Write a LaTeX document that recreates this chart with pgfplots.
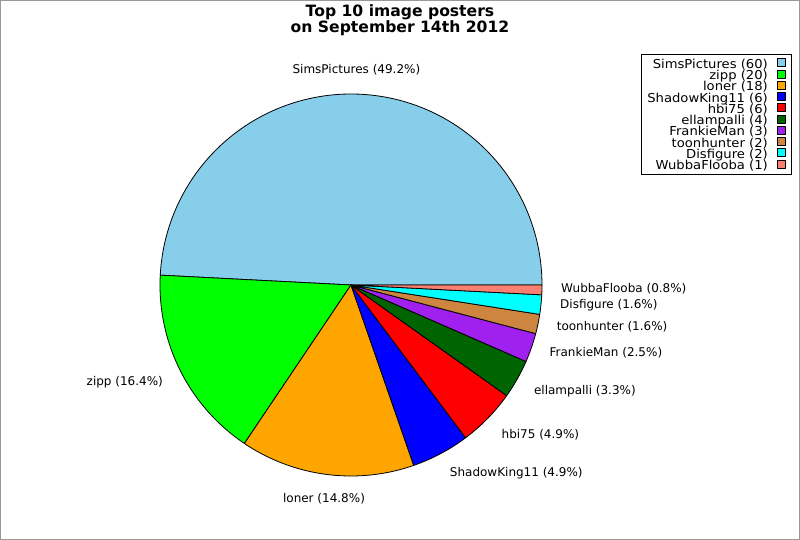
\documentclass[border=0pt]{standalone}
\usepackage{pgfplots}
\pgfplotsset{compat=1.18}
\usepackage{pgfplotstable}
\usepackage{fontspec}
\setmainfont{DejaVu Sans}
\newfontfamily\legfont[FakeStretch=1.07]{DejaVu Sans}
\definecolor{cSims}{RGB}{135,206,235}
\definecolor{cZipp}{RGB}{0,255,0}
\definecolor{cLoner}{RGB}{255,165,0}
\definecolor{cShadow}{RGB}{0,0,255}
\definecolor{cHbi}{RGB}{255,0,0}
\definecolor{cElla}{RGB}{0,100,0}
\definecolor{cFrankie}{RGB}{160,32,240}
\definecolor{cToon}{RGB}{205,133,63}
\definecolor{cDisf}{RGB}{0,255,255}
\definecolor{cWubba}{RGB}{250,128,114}
\colorlet{pie0}{cSims}
\colorlet{pie1}{cZipp}
\colorlet{pie2}{cLoner}
\colorlet{pie3}{cShadow}
\colorlet{pie4}{cHbi}
\colorlet{pie5}{cElla}
\colorlet{pie6}{cFrankie}
\colorlet{pie7}{cToon}
\colorlet{pie8}{cDisf}
\colorlet{pie9}{cWubba}

\pgfplotstableread{
name value
SimsPictures 60
zipp 20
loner 18
ShadowKing11 6
hbi75 6
ellampalli 4
FrankieMan 3
toonhunter 2
Disfigure 2
WubbaFlooba 1
}\piedata

\def\cx{351}
\def\cy{255}
\def\rad{191}

\begin{document}
\gdef\total{0}%
\pgfplotsforeachungrouped \i in {0,...,9}{%
  \pgfplotstablegetelem{\i}{value}\of\piedata
  \pgfmathsetmacro\tmp{\total+\pgfplotsretval}%
  \xdef\total{\tmp}%
}%
\gdef\cum{0}%
\pgfplotsforeachungrouped \i in {0,...,9}{%
  \pgfplotstablegetelem{\i}{value}\of\piedata
  \xdef\v{\pgfplotsretval}%
  \pgfplotstablegetelem{\i}{name}\of\piedata
  \expandafter\xdef\csname nm\i\endcsname{\pgfplotsretval}%
  \expandafter\xdef\csname val\i\endcsname{\v}%
  \pgfmathsetmacro\sa{\cum/\total*360}%
  \pgfmathsetmacro\tmp{\cum+\v}\xdef\cum{\tmp}%
  \pgfmathsetmacro\ea{\cum/\total*360}%
  \expandafter\xdef\csname sa\i\endcsname{\sa}%
  \expandafter\xdef\csname ea\i\endcsname{\ea}%
  \pgfmathsetmacro\md{(\sa+\ea)/2}%
  \pgfmathtruncatemacro\code{cos(\md)>0.3 ? 1 : (cos(\md)<-0.3 ? 2 : (sin(\md)>0 ? 3 : 4))}%
  \pgfmathsetmacro\ys{\code<3 ? (sin(\md)<-0.4 ? -3 : (sin(\md)<0 ? 1.5 : 0)) : 0}%
  \pgfmathsetmacro\lx{\cx+1.1*\rad*cos(\md)}%
  \pgfmathsetmacro\ly{\cy+1.1*\rad*sin(\md)+\ys}%
  \expandafter\xdef\csname lx\i\endcsname{\lx}%
  \expandafter\xdef\csname ly\i\endcsname{\ly}%
  \ifcase\code\or
    \expandafter\xdef\csname an\i\endcsname{west}\or
    \expandafter\xdef\csname an\i\endcsname{east}\or
    \expandafter\xdef\csname an\i\endcsname{south}\or
    \expandafter\xdef\csname an\i\endcsname{north}\fi
  \pgfmathtruncatemacro\pten{round(\v/\total*1000)}%
  \pgfmathtruncatemacro\pint{floor(\pten/10)}%
  \pgfmathtruncatemacro\pdec{\pten-10*\pint}%
  \expandafter\xdef\csname pt\i\endcsname{\pint.\pdec}%
}%
\begin{tikzpicture}
\begin{axis}[
  scale only axis, width=800pt, height=540pt,
  xmin=0, xmax=800, ymin=0, ymax=540,
  hide axis, clip=false,
  legend plot pos=right,
  legend cell align=right,
  legend style={at={(axis cs:792,486)}, anchor=north east, draw=black,
    line width=1pt, fill=white,
    font=\legfont\fontsize{12.3}{11}\selectfont,
    inner xsep=6pt, inner ysep=4pt, row sep=0pt, column sep=9pt,
    nodes={inner sep=0pt, text height=9.5pt, text depth=1.3pt}},
  legend image code/.code={\draw[#1,draw=black,line width=0.7pt] (0pt,-2.5pt) rectangle (8pt,5.5pt);},
]
\pgfplotsinvokeforeach{0,...,9}{%
  \addplot[fill=pie#1, draw=black, line width=0.8pt, line join=round,
    domain=\csname sa#1\endcsname:\csname ea#1\endcsname, samples=120, variable=\t]
    ({\cx+\rad*cos(\t)},{\cy+\rad*sin(\t)}) -- (axis cs:\cx,\cy) -- cycle;
  \addlegendentry{\csname nm#1\endcsname\ (\csname val#1\endcsname)}
  \node[anchor=\csname an#1\endcsname, inner sep=0pt, font=\fontsize{12}{14}\selectfont]
    at (axis cs:\csname lx#1\endcsname,\csname ly#1\endcsname)
    {\csname nm#1\endcsname\ (\csname pt#1\endcsname\%)};
}
\node[anchor=north, align=center, inner sep=0pt, font=\bfseries\fontsize{15.6}{13.8}\selectfont]
  at (axis cs:400,536) {Top 10 image posters\\on September 14th 2012};
\draw[gray!80, line width=1pt] (axis cs:0.5,0.5) rectangle (axis cs:799.5,539.5);
\end{axis}
\end{tikzpicture}
\end{document}
